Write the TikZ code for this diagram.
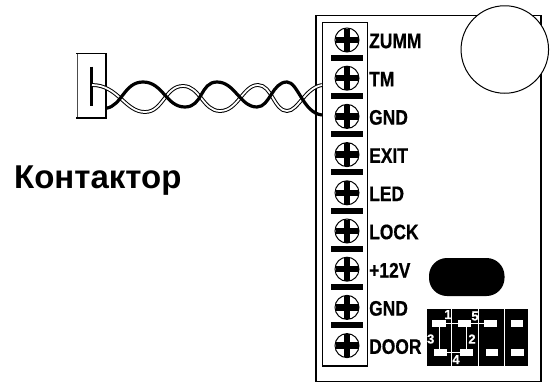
\documentclass[tikz,border=0pt]{standalone}
\usepackage{fontspec}
\setmainfont{Liberation Sans}
\newfontfamily\narrowbold[FakeStretch=0.83,FakeBold=0.6]{Liberation Sans Bold}
\newfontfamily\pinbold[FakeBold=0.5]{Liberation Sans Bold}
\tikzset{
  lbl/.style={anchor=west,inner sep=0pt,font=\fontsize{21}{22}\narrowbold},
  pin/.style={anchor=center,inner sep=0pt,text=white,font=\fontsize{13}{13}\pinbold},
  thin box/.style={draw=black,line width=1.2pt},
  wirew/.style={draw=black,line width=3.8pt,postaction={draw=white,line width=1.8pt}},
  wireb/.style={draw=black,line width=3.2pt},
}
\newcommand{\screw}[3]{%
  \node[circle,draw=black,line width=1pt,minimum size=24pt,inner sep=0pt] (s#1) at (347,#2) {};
  \fill[black] (335.5,#2-3.2) rectangle (358.5,#2+3.2);
  \fill[black] (343.8,#2-11.5) rectangle (350.2,#2+11.5);
  \node[lbl] (l#1) at (369,#2+1) {#3};
}
\begin{document}
\begin{tikzpicture}[x=1pt,y=-1pt]
\useasboundingbox (0,0) rectangle (550,383);
\fill[white] (0,0) rectangle (550,383);
\draw[thin box] (316,15.7) rectangle (541,381.5);
\draw[thin box] (322.3,22.7) rectangle (367.5,366);
\node[circle,draw=black,fill=white,line width=1pt,minimum size=87.5pt,inner sep=0pt] (c) at (504.8,49.5) {};
\screw{1}{40}{ZUMM}
\screw{2}{78.2}{TM}
\screw{3}{116.4}{GND}
\screw{4}{154.6}{EXIT}
\screw{5}{192.8}{LED}
\screw{6}{231}{LOCK}
\screw{7}{269.2}{+12V}
\screw{8}{307.4}{GND}
\screw{9}{345.6}{DOOR}
\foreach \y in {58,96,134,172,211,249,287,325}
  \fill[black] (330.7,\y-3) rectangle (363.3,\y+3);
\fill[black,rounded corners=18pt] (429,258) rectangle (504.5,296);
\fill[black] (426.7,309) rectangle (528,365.7);
\draw[white,line width=1pt] (451.7,309)--(451.7,365.7) (478.3,309)--(478.3,365.7) (504,309)--(504,365.7);
\foreach \a/\b/\w in {432/320/13.5,458/320/13,484/320/13,510.7/320/12.6,434/349/13,460/349/12.7,486/349/11.5,510.7/349/13}
  \fill[white] (\a,\b) rectangle (\a+\w,\b+6.5);
\draw[white,line width=.8pt] (438,323)--(490,323) (439.3,323)--(439.3,352) (466,323)--(466,352) (439.3,352)--(466,352);
\node[pin] at (448,314.5) {1};
\node[pin] at (475,316) {5};
\node[pin] at (430.7,339) {3};
\node[pin] at (472,339) {2};
\node[pin] at (456,359.5) {4};
\node[inner sep=0pt,anchor=base west,font=\fontsize{33}{35}\selectfont\bfseries] (kt) at (14,188) {Контактор};
\draw[black!70,line width=.7pt] (77,53.5)--(77,118);
\draw[black,line width=1.8pt] (76,53.5)--(106,53.5)--(106,118)--(76,118);
\draw[black,line width=2.6pt] (91.7,66.7)--(91.7,106);
\draw[wirew] (92,85) .. controls (118,85) and (125,112) .. (145,112)
 .. controls (163,112) and (165,86) .. (183,86)
 .. controls (200,86) and (203,111) .. (220,111)
 .. controls (238,111) and (243,85) .. (258,85)
 .. controls (272,85) and (274,111) .. (287,111)
 .. controls (298,111) and (305,88) .. (322,85);
\draw[wireb] (106,108.3) .. controls (122,106) and (124,82) .. (143,82)
 .. controls (163,82) and (166,107) .. (185,107)
 .. controls (203,107) and (200,82) .. (217,82)
 .. controls (235,82) and (240,107) .. (257,107)
 .. controls (270,107) and (272,82) .. (287,82)
 .. controls (298,82) and (303,113) .. (322,115);
\end{tikzpicture}
\end{document}
